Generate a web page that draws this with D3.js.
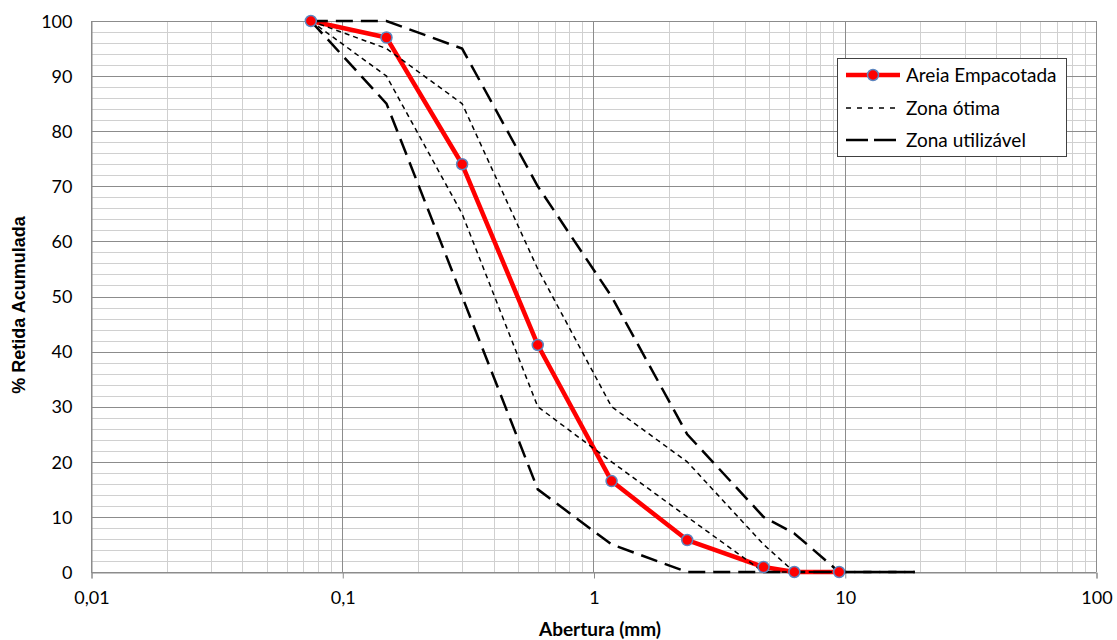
<!DOCTYPE html>
<html>
<head>
<meta charset="utf-8">
<script src="https://cdn.jsdelivr.net/npm/d3@7"></script>
<style>
  body { margin: 0; background: #fff; }
  svg { display: block; }
  text { font-family: Lato, "Open Sans", sans-serif; fill: #000; }
</style>
</head>
<body>
<svg id="chart" width="1117" height="640"></svg>
<script>
// ---- data ----
const sieves = [0.075, 0.15, 0.3, 0.6, 1.18, 2.36, 4.75, 6.3, 9.5];
const areiaEmpacotada = [100, 97, 74, 41.2, 16.5, 5.8, 0.9, 0, 0];

const zoneSieves = [0.075, 0.15, 0.3, 0.6, 1.18, 2.36, 4.75, 6.3, 9.5, 19];
const otimaInferior = [100, 90, 65, 30, 20, 10, 0, 0, 0, null];
const otimaSuperior = [100, 95, 85, 55, 30, 20, 5, 0, 0, null];
const utilInferior = [100, 85, 50, 15, 5, 0, 0, 0, 0, 0];
const utilSuperior = [100, 100, 95, 70, 50, 25, 10, 7, 0, 0];

const xTickValues = [0.01, 0.1, 1, 10, 100];
const xTickLabels = ["0,01", "0,1", "1", "10", "100"];
const yTickValues = [0, 10, 20, 30, 40, 50, 60, 70, 80, 90, 100];

const seriesNames = ["Areia Empacotada", "Zona ótima", "Zona utilizável"];
const xTitle = "Abertura (mm)";
const yTitle = "% Retida Acumulada";

// ---- layout ----
const svg = d3.select("#chart");
const L = 91, R = 1096, T = 21, B = 572;
const x = d3.scaleLog().domain([0.01, 100]).range([L, R]);
const y = d3.scaleLinear().domain([0, 100]).range([B, T]);

// grid
const grid = svg.append("g");
const minorX = [];
for (let e = -2; e < 2; e++) for (let k = 2; k <= 9; k++) minorX.push(k * Math.pow(10, e));
grid.selectAll(".mx").data(minorX).join("line")
  .attr("x1", d => Math.round(x(d)) + 0.5).attr("x2", d => Math.round(x(d)) + 0.5)
  .attr("y1", T).attr("y2", B).attr("stroke", "#d0d0d0").attr("stroke-width", 1);
const minorY = d3.range(0, 101, 2).filter(v => v % 10 !== 0);
grid.selectAll(".my").data(minorY).join("line")
  .attr("x1", L).attr("x2", R)
  .attr("y1", d => Math.round(y(d)) + 0.5).attr("y2", d => Math.round(y(d)) + 0.5)
  .attr("stroke", "#d0d0d0").attr("stroke-width", 1);
grid.selectAll(".My").data(yTickValues).join("line")
  .attr("x1", L).attr("x2", R)
  .attr("y1", d => Math.round(y(d)) + 0.5).attr("y2", d => Math.round(y(d)) + 0.5)
  .attr("stroke", "#8c8c8c").attr("stroke-width", 1);
grid.selectAll(".Mx").data(xTickValues).join("line")
  .attr("x1", d => Math.round(x(d)) + 0.5).attr("x2", d => Math.round(x(d)) + 0.5)
  .attr("y1", T).attr("y2", B).attr("stroke", "#8c8c8c").attr("stroke-width", 1);

// x axis
const xAxis = d3.axisBottom(x).tickValues(xTickValues)
  .tickFormat((d, i) => xTickLabels[i]).tickSize(6).tickPadding(13);
const gx = svg.append("g").attr("transform", `translate(0.5,${Math.round(B) + 0.5})`).call(xAxis);
gx.select(".domain").attr("stroke", "#8c8c8c");
gx.selectAll(".tick line").attr("stroke", "#8c8c8c");
gx.selectAll("text").attr("font-size", 18).attr("font-family", "Lato, sans-serif");

// y axis
const yAxis = d3.axisLeft(y).tickValues(yTickValues).tickSize(0).tickPadding(19);
const gy = svg.append("g").attr("transform", `translate(${L + 0.5},0.5)`).call(yAxis);
gy.select(".domain").attr("stroke", "#8c8c8c");
gy.selectAll("text").attr("font-size", 18).attr("font-family", "Lato, sans-serif");

// titles
svg.append("text").attr("x", 600).attr("y", 636)
  .attr("text-anchor", "middle").attr("font-size", 19).attr("font-weight", "bold").text(xTitle);
svg.append("text").attr("transform", `translate(25,305) rotate(-90)`)
  .attr("text-anchor", "middle").attr("font-size", 18).attr("font-weight", "bold")
  .style("font-family", "'Liberation Sans', Arial, sans-serif").text(yTitle);

// lines
const lineGen = d3.line().defined(d => d[1] !== null).x(d => x(d[0])).y(d => y(d[1]));
const zip = (xs, ys) => xs.map((v, i) => [v, ys[i]]);

svg.append("path").datum(zip(sieves, areiaEmpacotada))
  .attr("d", lineGen).attr("fill", "none").attr("stroke", "#ff0000")
  .attr("stroke-width", 4.5).attr("stroke-linejoin", "round");

[otimaInferior, otimaSuperior].forEach(s => {
  svg.append("path").datum(zip(zoneSieves, s)).attr("d", lineGen)
    .attr("fill", "none").attr("stroke", "#000").attr("stroke-width", 1.5)
    .attr("stroke-dasharray", "5,4");
});
[utilInferior, utilSuperior].forEach(s => {
  svg.append("path").datum(zip(zoneSieves, s)).attr("d", lineGen)
    .attr("fill", "none").attr("stroke", "#000").attr("stroke-width", 2.5)
    .attr("stroke-dasharray", "17,8");
});

svg.append("g").selectAll("circle").data(zip(sieves, areiaEmpacotada)).join("circle")
  .attr("cx", d => x(d[0])).attr("cy", d => y(d[1])).attr("r", 5.5)
  .attr("fill", "#ff0000").attr("stroke", "#5b86c0").attr("stroke-width", 1.5);

// legend
const lg = svg.append("g");
lg.append("rect").attr("x", 837.5).attr("y", 58.5).attr("width", 229).attr("height", 98)
  .attr("fill", "#fff").attr("stroke", "#404040").attr("stroke-width", 1);
const rows = [75, 108, 140];
lg.append("line").attr("x1", 846).attr("x2", 900).attr("y1", rows[0]).attr("y2", rows[0])
  .attr("stroke", "#ff0000").attr("stroke-width", 4.5);
lg.append("circle").attr("cx", 873).attr("cy", rows[0]).attr("r", 5.5)
  .attr("fill", "#ff0000").attr("stroke", "#5b86c0").attr("stroke-width", 1.5);
lg.append("line").attr("x1", 846).attr("x2", 900).attr("y1", rows[1]).attr("y2", rows[1])
  .attr("stroke", "#000").attr("stroke-width", 1.5).attr("stroke-dasharray", "5,6");
lg.append("line").attr("x1", 846).attr("x2", 897).attr("y1", rows[2]).attr("y2", rows[2])
  .attr("stroke", "#000").attr("stroke-width", 2.5).attr("stroke-dasharray", "22,6");
seriesNames.forEach((n, i) => {
  lg.append("text").attr("x", 906).attr("y", rows[i]).attr("dy", "0.35em")
    .attr("font-size", 19).text(n);
});
</script>
</body>
</html>
